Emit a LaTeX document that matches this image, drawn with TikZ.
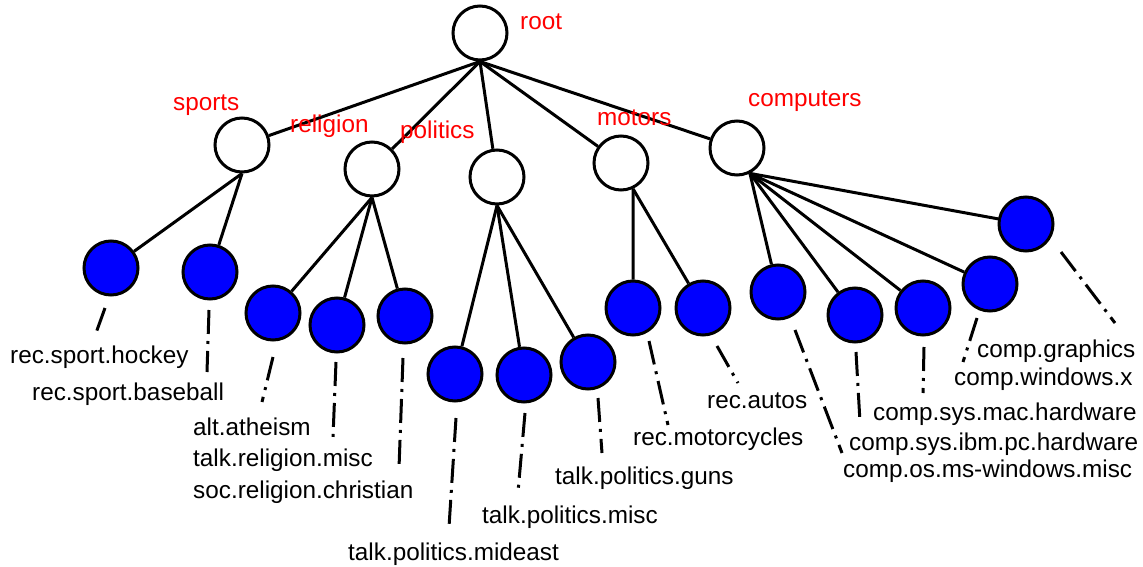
\documentclass[tikz,border=0pt]{standalone}
\usepackage{fontspec}
\setmainfont{Liberation Sans}
\begin{document}
\begin{tikzpicture}[x=1pt,y=-1pt,
  inner/.style={circle,draw=black,line width=3pt,fill=white,minimum size=54pt,inner sep=0pt},
  leaf/.style={circle,draw=black,line width=3pt,fill=blue,minimum size=54pt,inner sep=0pt},
  edge/.style={draw=black,line width=3pt},
  dd/.style={draw=black,line width=3pt,dash pattern=on 24pt off 7pt on 3pt off 7pt},
  lab/.style={anchor=base west,inner sep=0pt,font=\fontsize{24.3}{29}\selectfont},
  rlab/.style={lab,text=red}]
\useasboundingbox (0,0) rectangle (1143,567);
% nodes
\node[inner] (root) at (480,33) {};
\node[inner] (sports) at (242,145) {};
\node[inner] (religion) at (372,169) {};
\node[inner] (politics) at (497,177) {};
\node[inner] (motors) at (621,163) {};
\node[inner] (computers) at (737,148) {};
\node[leaf] (hockey) at (111,268) {};
\node[leaf] (baseball) at (210,272) {};
\node[leaf] (atheism) at (273,313) {};
\node[leaf] (relmisc) at (337,325) {};
\node[leaf] (christian) at (405,316) {};
\node[leaf] (mideast) at (455,374) {};
\node[leaf] (polmisc) at (524,375) {};
\node[leaf] (guns) at (588,362) {};
\node[leaf] (motorcycles) at (633,308) {};
\node[leaf] (autos) at (703,308) {};
\node[leaf] (mswin) at (778,292) {};
\node[leaf] (ibm) at (855,315) {};
\node[leaf] (mac) at (923,308) {};
\node[leaf] (winx) at (990,284) {};
\node[leaf] (graphics) at (1026,224) {};
% edges
\foreach \c in {sports,religion,politics,motors,computers}
  \draw[edge] (root.south) -- (\c);
\foreach \c in {hockey,baseball} \draw[edge] (sports.south) -- (\c);
\foreach \c in {atheism,relmisc,christian} \draw[edge] (religion.south) -- (\c);
\foreach \c in {mideast,polmisc,guns} \draw[edge] (politics.south) -- (\c);
\foreach \c in {motorcycles,autos} \draw[edge] (motors.-65) -- (\c);
\foreach \c in {mswin,ibm,mac,winx,graphics} \draw[edge] (computers.-63) -- (\c);
% red labels
\node[rlab] (lroot) at (520,30) {root};
\node[rlab] (lsports) at (173,111) {sports};
\node[rlab] (lreligion) at (290,133) {religion};
\node[rlab] (lpolitics) at (400,139) {politics};
\node[rlab] (lmotors) at (597,126) {motors};
\node[rlab] (lcomputers) at (748,107) {computers};
% leaf labels
\node[lab] (thockey) at (10,363) {rec.sport.hockey};
\node[lab] (tbaseball) at (32,400) {rec.sport.baseball};
\node[lab] (tatheism) at (193,435) {alt.atheism};
\node[lab] (trelmisc) at (193,466) {talk.religion.misc};
\node[lab] (tchristian) at (193,498) {soc.religion.christian};
\node[lab] (tmideast) at (348,560) {talk.politics.mideast};
\node[lab] (tpolmisc) at (482,523) {talk.politics.misc};
\node[lab] (tguns) at (555,484) {talk.politics.guns};
\node[lab] (tmotorcycles) at (633,445) {rec.motorcycles};
\node[lab] (tautos) at (707,408) {rec.autos};
\node[lab] (tmswin) at (843,477) {comp.os.ms-windows.misc};
\node[lab] (tibm) at (849,450) {comp.sys.ibm.pc.hardware};
\node[lab] (tmac) at (873,420) {comp.sys.mac.hardware};
\node[lab] (twinx) at (954,385) {comp.windows.x};
\node[lab] (tgraphics) at (977,357) {comp.graphics};
% dash-dot leaders
\coordinate (h1) at (105,308); \coordinate (h2) at (96,333);
\coordinate (b1) at (209,310); \coordinate (b2) at (207,372);
\coordinate (a1) at (273,357); \coordinate (a2) at (262,402);
\coordinate (r1) at (336,362); \coordinate (r2) at (333,437);
\coordinate (c1) at (403,358); \coordinate (c2) at (399,468);
\coordinate (m1) at (456,418); \coordinate (m2) at (449,527);
\coordinate (p1) at (525,413); \coordinate (p2) at (518,492);
\coordinate (g1) at (598,398); \coordinate (g2) at (602,453);
\coordinate (mc1) at (649,341); \coordinate (mc2) at (668,425);
\coordinate (au1) at (717,346); \coordinate (au2) at (738,383);
\coordinate (w1) at (795,330); \coordinate (w2) at (842,453);
\coordinate (i1) at (856,352); \coordinate (i2) at (860,422);
\coordinate (k1) at (924,347); \coordinate (k2) at (923,393);
\coordinate (x1) at (977,318); \coordinate (x2) at (963,362);
\coordinate (gr1) at (1061,252); \coordinate (gr2) at (1115,323);
\foreach \s/\e in {h1/h2,b1/b2,a1/a2,r1/r2,c1/c2,m1/m2,p1/p2,g1/g2,mc1/mc2,au1/au2,w1/w2,i1/i2,k1/k2,x1/x2,gr1/gr2}
  \draw[dd] (\s) -- (\e);
\end{tikzpicture}
\end{document}
